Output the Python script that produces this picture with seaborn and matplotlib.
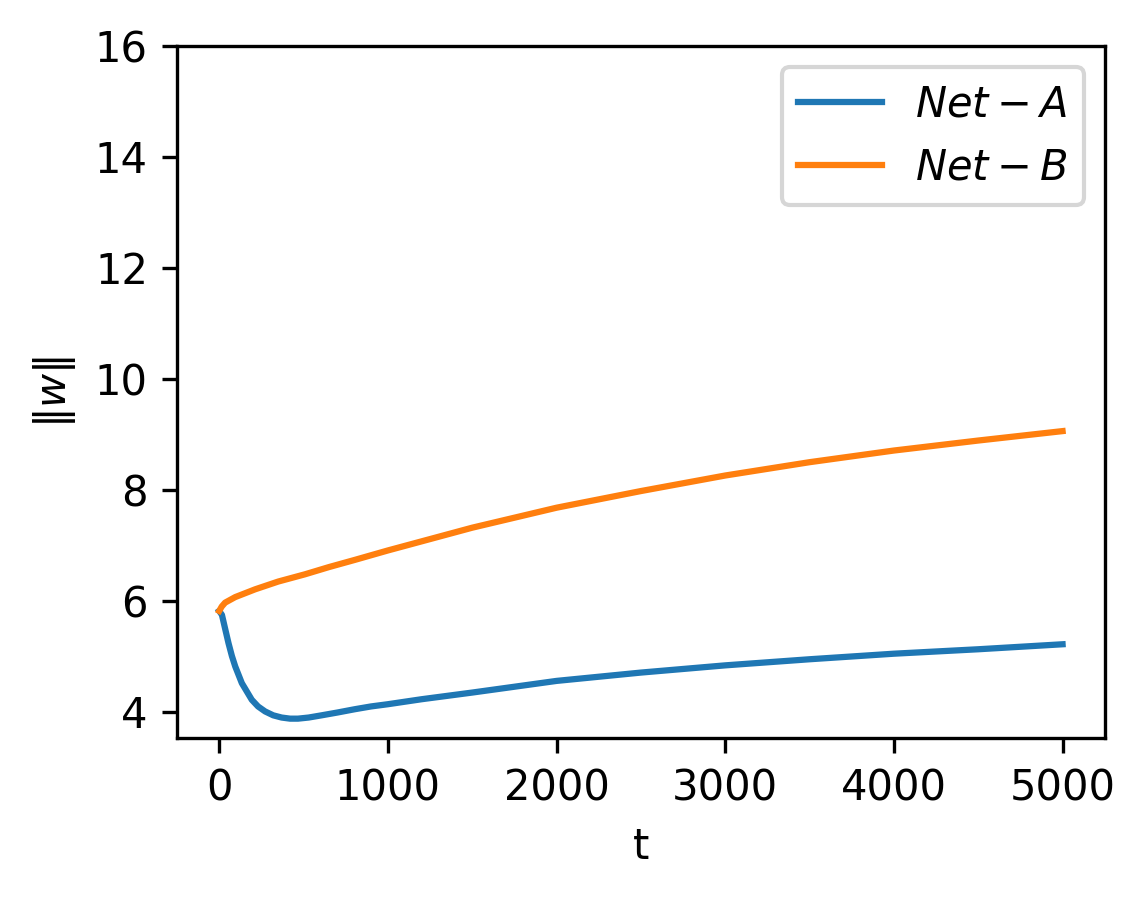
import numpy as np
import pandas as pd
import matplotlib
matplotlib.use("Agg")
import matplotlib.pyplot as plt
import seaborn as sns

# values
t_a = [0, 16, 35, 55, 75, 95, 134, 193, 230, 272, 320, 370, 420, 467, 530,
       607, 700, 804, 900, 1000, 1200, 1500, 2000, 2500, 3000, 3500, 4000,
       4500, 5000]
norm_a = [5.82, 5.75, 5.50, 5.24, 5.01, 4.82, 4.52, 4.22, 4.10, 4.01, 3.94,
          3.90, 3.88, 3.88, 3.90, 3.94, 3.99, 4.05, 4.10, 4.14, 4.23, 4.35,
          4.56, 4.71, 4.84, 4.95, 5.05, 5.13, 5.22]

t_b = [0, 15, 35, 95, 213, 350, 508, 650, 804, 1000, 1500, 2000, 2500, 3000,
       3500, 4000, 4500, 5000]
norm_b = [5.82, 5.90, 5.97, 6.07, 6.21, 6.35, 6.48, 6.61, 6.74, 6.91, 7.32,
          7.68, 7.98, 8.26, 8.50, 8.71, 8.89, 9.06]

labels = [r"$Net-A$", r"$Net-B$"]


def main():
    df = pd.concat([
        pd.DataFrame({"t": t_a, "w": norm_a, "net": labels[0]}),
        pd.DataFrame({"t": t_b, "w": norm_b, "net": labels[1]}),
    ], ignore_index=True)

    fig = plt.figure(figsize=(1146 / 300, 899 / 300), dpi=300)
    ax = fig.add_axes([0.1545, 0.179, 0.8095, 0.770])
    sns.lineplot(data=df, x="t", y="w", hue="net", hue_order=labels,
                 palette=["#1f77b4", "#ff7f0e"], ax=ax, estimator=None)

    ax.set_ylim(3.53, 16)
    ax.set_yticks([4, 6, 8, 10, 12, 14, 16])
    ax.set_xticks([0, 1000, 2000, 3000, 4000, 5000])
    ax.set_xlabel("t")
    ax.set_ylabel(r"$\|w\|$")
    ax.legend(loc="upper right")

    fig.savefig("out.png", dpi=300)
    plt.close(fig)


if __name__ == "__main__":
    main()
